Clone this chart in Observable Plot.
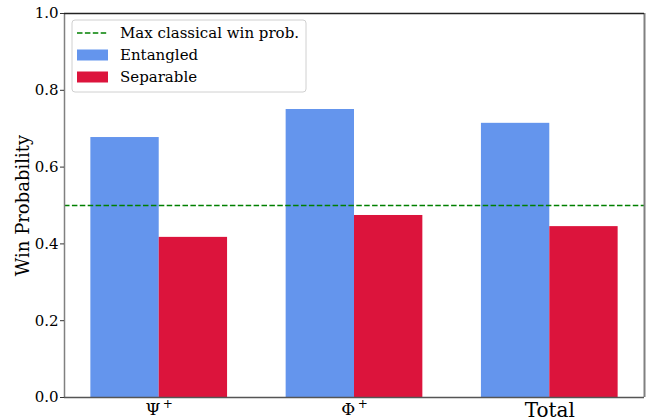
<!DOCTYPE html>
<html>
<head>
<meta charset="utf-8">
<script src="https://cdn.jsdelivr.net/npm/d3@7"></script>
<script src="https://cdn.jsdelivr.net/npm/@observablehq/plot@0.6"></script>
<style>
  html, body { margin: 0; padding: 0; background: #fff; }
  #chart { position: relative; width: 649px; height: 420px; }
  svg { font-family: "DejaVu Serif", serif; }
</style>
</head>
<body>
<div id="chart"></div>
<script>
// ---- data ----
const categories = ["Ψ", "Φ", "Total"];
const categorySup = ["+", "+", ""];
const entangled = [0.677, 0.750, 0.714];
const separable = [0.417, 0.474, 0.445];
const classicalMax = 0.5;
const seriesNames = ["Entangled", "Separable"];
const seriesColors = ["#6495ED", "#DC143C"];
const lineName = "Max classical win prob.";
const yTicks = [0.0, 0.2, 0.4, 0.6, 0.8, 1.0];

const barWidth = 0.35;
const xDomain = [-0.485, categories.length - 1 + 0.485];

const rows = [];
categories.forEach((c, i) => {
  rows.push({i, series: seriesNames[0], value: entangled[i], off: -barWidth});
  rows.push({i, series: seriesNames[1], value: separable[i], off: 0});
});

const plot = Plot.plot({
  width: 649,
  height: 420,
  marginLeft: 64,
  marginRight: 5,
  marginTop: 13,
  marginBottom: 23,
  style: {fontFamily: "DejaVu Serif", background: "white"},
  x: {domain: xDomain},
  y: {domain: [0, 1]},
  color: {domain: seriesNames, range: seriesColors},
  marks: [
    Plot.rectY(rows, {
      x1: d => d.i + d.off,
      x2: d => d.i + d.off + barWidth,
      y1: 0,
      y2: "value",
      fill: "series"
    }),
    Plot.ruleY([classicalMax], {stroke: "green", strokeWidth: 1.5, strokeDasharray: "5.5,2.4"}),
    Plot.ruleX([xDomain[0]], {stroke: "#808080", strokeWidth: 1.5}),
    Plot.ruleX([xDomain[1]], {stroke: "#808080", strokeWidth: 2}),
    Plot.ruleY([0], {stroke: "#555", strokeWidth: 1.5}),
    Plot.ruleY([1], {stroke: "#222", strokeWidth: 1.5}),
    Plot.axisY({
      ticks: yTicks,
      tickFormat: d => d.toFixed(1),
      tickSize: 4,
      tickPadding: 2,
      fontSize: 15,
      stroke: "#333",
      label: "Win Probability",
      labelAnchor: "center",
      labelArrow: "none",
      labelOffset: 48
    }),
    Plot.axisX({
      ticks: categories.map((c, i) => i),
      tickFormat: i => categories[i],
      tickSize: 0,
      tickPadding: 5,
      fontSize: 17,
      label: null
    })
  ]
});

document.getElementById("chart").appendChild(plot);
const svg = d3.select(plot);

// y label styling
svg.selectAll('g[aria-label="y-axis label"] text').attr("font-size", 18).attr("fill", "#000");
svg.selectAll('g[aria-label="y-axis tick label"] text').attr("fill", "#000");

// x labels with superscripts
svg.selectAll('g[aria-label="x-axis tick label"] text').each(function(d, k) {
  const t = d3.select(this);
  const base = categories[k];
  const sup = categorySup[k];
  t.text(null).attr("fill", "#000");
  if (sup) {
    t.append("tspan").text(base);
    t.append("tspan").text("\u2009" + sup).attr("font-size", 12).attr("dy", "-0.55em");
  } else {
    t.text(base).attr("font-size", 20);
  }
});

// legend
const lg = svg.append("g").attr("font-family", "DejaVu Serif").attr("font-size", 15)
  .attr("text-anchor", "start");
lg.append("rect").attr("x", 72).attr("y", 20).attr("width", 234).attr("height", 72)
  .attr("rx", 3).attr("fill", "white").attr("fill-opacity", 0.8).attr("stroke", "#d0d0d0");
const entries = [
  {name: lineName, type: "line", color: "green"},
  {name: seriesNames[0], type: "patch", color: seriesColors[0]},
  {name: seriesNames[1], type: "patch", color: seriesColors[1]}
];
entries.forEach((e, k) => {
  const cy = 33 + k * 22;
  if (e.type === "line") {
    lg.append("line").attr("x1", 77).attr("x2", 108).attr("y1", cy).attr("y2", cy)
      .attr("stroke", e.color).attr("stroke-width", 1.5).attr("stroke-dasharray", "5.5,2.4");
  } else {
    lg.append("rect").attr("x", 77).attr("y", cy - 5.5).attr("width", 31).attr("height", 11).attr("fill", e.color);
  }
  lg.append("text").attr("x", 120).attr("y", cy).attr("dy", "0.35em")
    .attr("text-anchor", "start").attr("fill", "#000").text(e.name);
});
</script>
</body>
</html>
